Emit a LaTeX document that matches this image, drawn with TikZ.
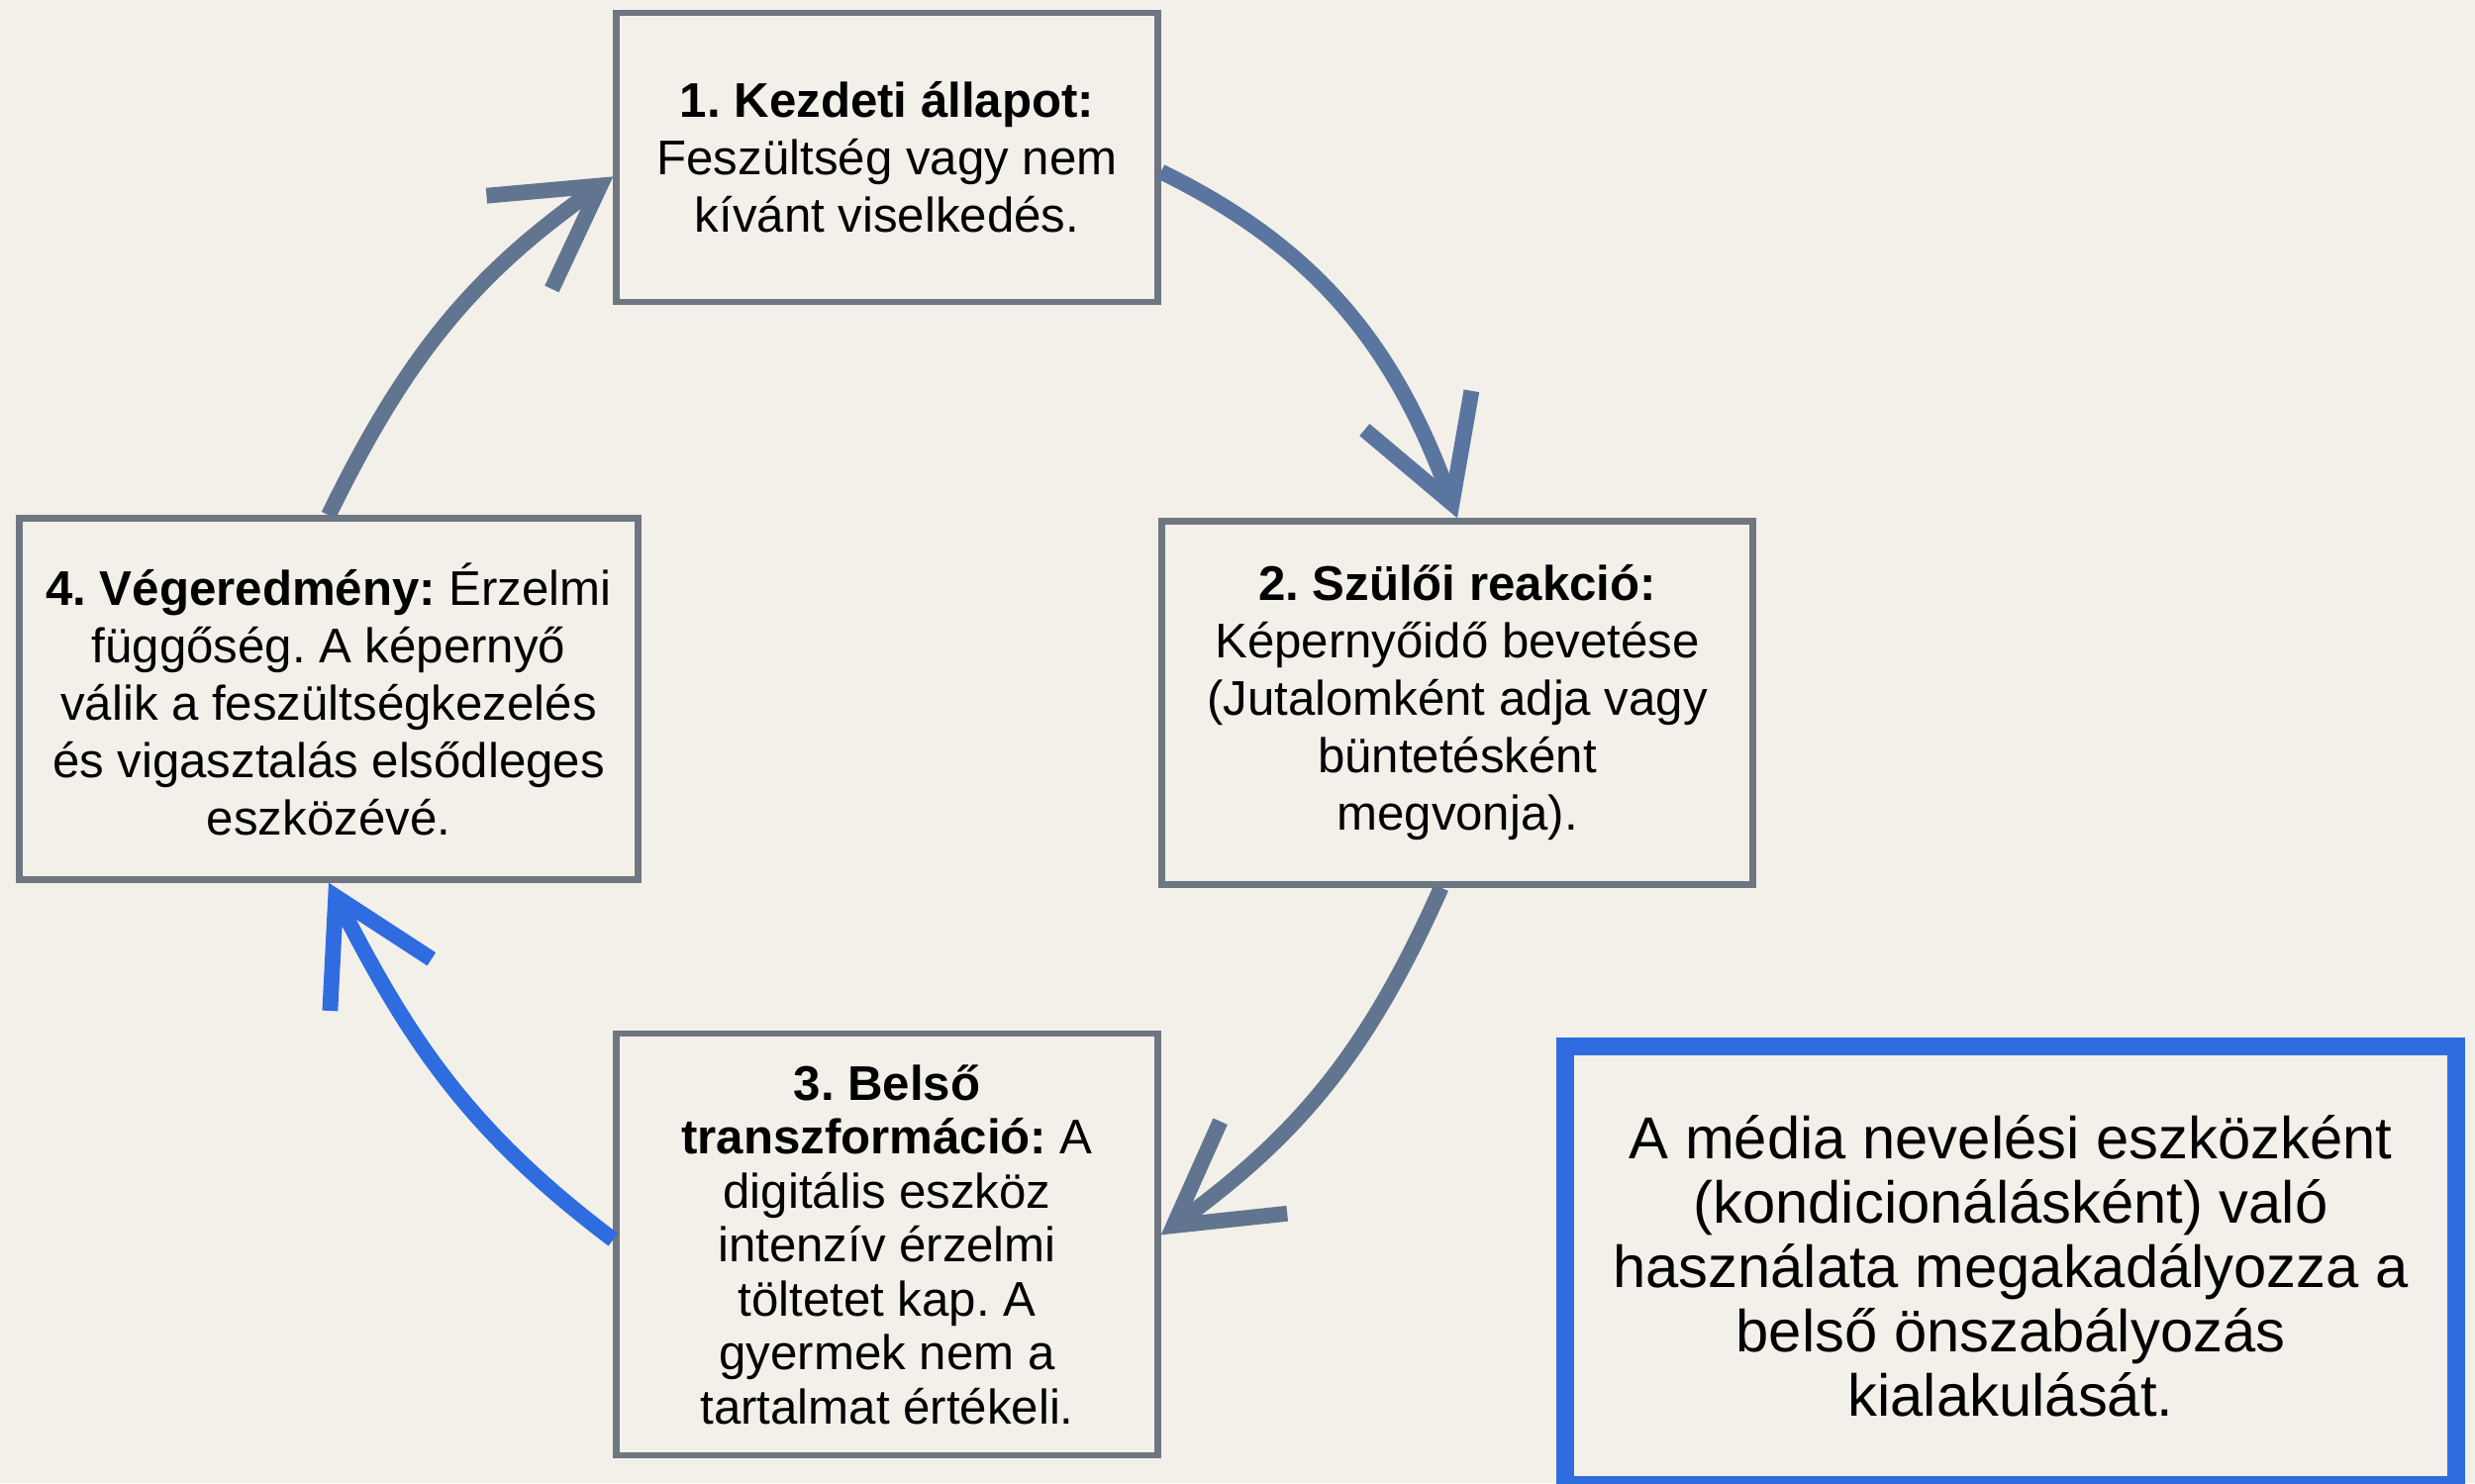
\documentclass[tikz,border=0pt]{standalone}
\usepackage{fontspec}
\setmainfont{Liberation Sans}
\usetikzlibrary{arrows.meta}
\definecolor{hatter}{HTML}{F3F0E9}
\definecolor{keret}{HTML}{6E7682}
\definecolor{pala}{HTML}{5A76A0}
\definecolor{szurke}{HTML}{617591}
\definecolor{kek}{HTML}{2E6CE0}
\frenchspacing

\begin{document}
\begin{tikzpicture}[>={Straight Barb[length=10mm, width=11.5mm, sharp]},
  allapot/.style={draw=keret, line width=1.8pt, align=center, font=\fontsize{14}{16.5}\selectfont},
  nyil/.style={->, line width=4.5pt}]
\useasboundingbox (0,0) rectangle (25,-14.98);
\fill[hatter] (0,0) rectangle (25,-14.98);

\node[allapot, minimum width=5.47cm, minimum height=2.92cm] (K) at (8.96,-1.59)
  {\textbf{1. Kezdeti állapot:}\\Feszültség vagy nem\\kívánt viselkedés.};
\node[allapot, minimum width=5.97cm, minimum height=3.67cm] (R) at (14.72,-7.1)
  {\textbf{2. Szülői reakció:}\\Képernyőidő bevetése\\(Jutalomként adja vagy\\büntetésként\\megvonja).};
\node[allapot, minimum width=5.47cm, minimum height=4.26cm, font=\fontsize{14}{15.5}\selectfont] (T) at (8.96,-12.57)
  {\textbf{3. Belső}\\\textbf{transzformáció:} A\\digitális eszköz\\intenzív érzelmi\\töltetet kap. A\\gyermek nem a\\tartalmat értékeli.};
\node[allapot, minimum width=6.25cm, minimum height=3.65cm] (V) at (3.32,-7.06)
  {\textbf{4. Végeredmény:} Érzelmi\\függőség. A képernyő\\válik a feszültségkezelés\\és vigasztalás elsődleges\\eszközévé.};
\node[draw=kek, line width=5pt, minimum width=9cm, minimum height=4.43cm, align=center,
  font=\fontsize{17}{18.5}\selectfont] (M) at (20.31,-12.785)
  {A média nevelési eszközként\\(kondicionálásként) való\\használata megakadályozza a\\belső önszabályozás\\kialakulását.};

% a kör
\draw[nyil, pala] (K.-3) to[out=-26, in=110] (R.north);
\draw[nyil, szurke] (R.-95) to[out=-114, in=36] (T.2);
\draw[nyil, kek] (T.179) to[out=143, in=-63] (V.south);
\draw[nyil, szurke] (V.north) to[out=64, in=215] (K.184);
\end{tikzpicture}
\end{document}
